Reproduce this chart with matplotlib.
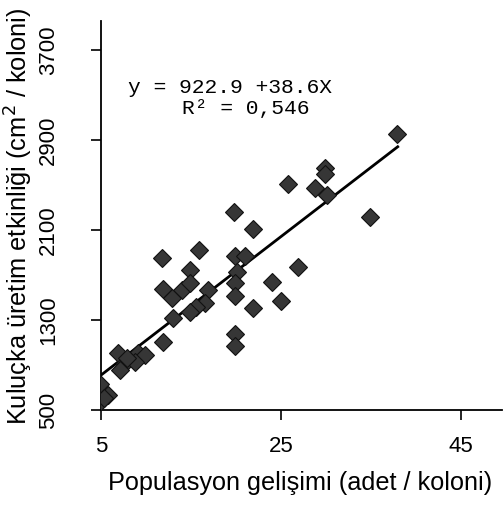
import matplotlib
matplotlib.use('Agg')
import matplotlib.pyplot as plt
import numpy as np

# valeurs
pop_x = [37.9, 29.9, 29.9, 25.8, 28.8, 30.1, 34.9, 19.8, 21.9, 15.9,
         11.8, 19.9, 21.0, 14.9, 26.9, 20.1, 11.9, 14.0, 14.9, 16.9,
         12.9, 19.9, 24.0, 19.9, 25.0, 21.9, 16.6, 15.6, 14.9, 13.0,
         19.9, 19.9, 11.9, 6.9, 7.7, 7.1, 9.1, 9.9, 8.8, 7.9,
         4.9, 5.8, 4.9, 5.3]
brood_y = [2950, 2650, 2600, 2510, 2470, 2415, 2215, 2260, 2105, 1920,
           1850, 1865, 1865, 1745, 1775, 1725, 1580, 1570, 1625, 1570,
           1495, 1625, 1640, 1515, 1465, 1405, 1450, 1420, 1370, 1315,
           1180, 1065, 1105, 1005, 915, 860, 1005, 990, 930, 960,
           735, 630, 575, 605]

# droite de tendance (extrémités lues)
fit_x = [5, 38]
fit_y = [810, 2840]

x_ticks = [5, 25, 45]
y_ticks = [500, 1300, 2100, 2900, 3700]

eq_line1 = 'y = 922.9 +38.6X'
eq_line2 = 'R² = 0,546'

W, H = 503, 508
fig = plt.figure(figsize=(W / 100, H / 100), dpi=100)
ax = fig.add_axes([101 / W, 1 - 410 / H, 401 / W, 389 / H])

ax.plot(fit_x, fit_y, color='black', linewidth=2.0, zorder=2)
ax.plot(pop_x, brood_y, linestyle='none', marker='D', markersize=9,
        markerfacecolor='#363636', markeredgecolor='#111111',
        markeredgewidth=0.8, zorder=3)

ax.set_xlim(5, 49.6)
ax.set_ylim(500, 3958)
ax.set_xticks(x_ticks)
ax.set_yticks(y_ticks)

for side in ['top', 'right']:
    ax.spines[side].set_visible(False)
for side in ['left', 'bottom']:
    ax.spines[side].set_linewidth(1.3)

ax.tick_params(direction='out', length=7, width=1.2, labelsize=16)
ax.tick_params(axis='x', pad=11.5)
ax.tick_params(axis='y', pad=23)
for lbl in ax.get_yticklabels():
    lbl.set_rotation(90)
    lbl.set_va('center')
for lbl in ax.get_xticklabels() + ax.get_yticklabels():
    lbl.set_family('Liberation Sans')

fig.text(300 / W, 1 - 483 / H, 'Populasyon gelişimi (adet / koloni)',
         fontsize=18.2, family='Liberation Sans', ha='center', va='center')
fig.text(19 / W, 1 - 216 / H, 'Kuluçka üretim etkinliği (cm$^2$ / koloni)',
         fontsize=18.3, family='Liberation Sans', ha='center', va='center',
         rotation=90)

ax.text(8.0, 3371, eq_line1, family='Liberation Mono', fontsize=15.3,
        ha='left', va='center')
ax.text(14.0, 3184, eq_line2, family='Liberation Mono', fontsize=15.3,
        ha='left', va='center')

fig.savefig('out.png', dpi=100)
